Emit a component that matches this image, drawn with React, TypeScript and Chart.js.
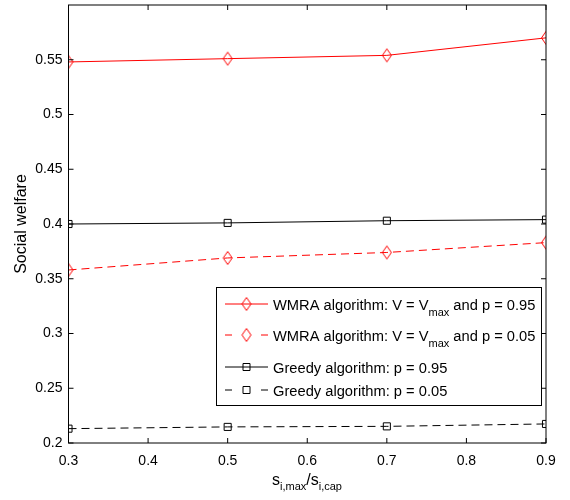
import React, { useEffect, useRef } from "react";
import { Chart, registerables } from "chart.js";

Chart.register(...registerables);

const xValues = [0.3, 0.5, 0.7, 0.9];
const wmra95 = [0.548, 0.551, 0.554, 0.570];
const wmra05 = [0.358, 0.369, 0.374, 0.383];
const greedy95 = [0.400, 0.401, 0.403, 0.404];
const greedy05 = [0.2131, 0.2147, 0.2152, 0.2174];
const xTicks = [0.3, 0.4, 0.5, 0.6, 0.7, 0.8, 0.9];
const yTicks = [0.2, 0.25, 0.3, 0.35, 0.4, 0.45, 0.5, 0.55];

const FONT = "'Liberation Sans', Arial, Helvetica, sans-serif";

function makeDiamond(): HTMLCanvasElement {
  const c = document.createElement("canvas");
  c.width = 12;
  c.height = 16;
  const ctx = c.getContext("2d")!;
  ctx.strokeStyle = "#ff0000";
  ctx.lineWidth = 1;
  ctx.beginPath();
  ctx.moveTo(6, 1.5);
  ctx.lineTo(10.5, 8);
  ctx.lineTo(6, 14.5);
  ctx.lineTo(1.5, 8);
  ctx.closePath();
  ctx.stroke();
  return c;
}

function toPts(ys: number[]) {
  return xValues.map((x, i) => ({ x, y: ys[i] }));
}

export default function App() {
  const ref = useRef<HTMLCanvasElement | null>(null);
  useEffect(() => {
    const canvas = ref.current!;
    const diamond = makeDiamond();

    const frame = {
      id: "frame",
      afterDraw(chart: any) {
        const ctx = chart.ctx as CanvasRenderingContext2D;
        const a = chart.chartArea;
        const xs = chart.scales.x;
        const ys = chart.scales.y;
        ctx.save();
        ctx.strokeStyle = "#000";
        ctx.lineWidth = 1;
        ctx.setLineDash([]);
        ctx.strokeRect(a.left, a.top, a.right - a.left, a.bottom - a.top);
        const tl = 5;
        ctx.beginPath();
        xTicks.forEach((v) => {
          const px = xs.getPixelForValue(v);
          ctx.moveTo(px, a.bottom);
          ctx.lineTo(px, a.bottom - tl);
          ctx.moveTo(px, a.top);
          ctx.lineTo(px, a.top + tl);
        });
        yTicks.forEach((v) => {
          const py = ys.getPixelForValue(v);
          ctx.moveTo(a.left, py);
          ctx.lineTo(a.left + tl, py);
          ctx.moveTo(a.right, py);
          ctx.lineTo(a.right - tl, py);
        });
        ctx.stroke();

        // Legend
        const lx = 216, ly = 287, lw = 325, lh = 118;
        ctx.fillStyle = "#fff";
        ctx.fillRect(lx, ly, lw, lh);
        ctx.strokeStyle = "#000";
        ctx.strokeRect(lx + 0.5, ly + 0.5, lw, lh);
        const rows = [
          { y: 304, color: "#ff0000", dashed: false, marker: "d", pre: "WMRA algorithm: V = V", sub: "max", post: " and p = 0.95" },
          { y: 335, color: "#ff0000", dashed: true, marker: "d", pre: "WMRA algorithm: V = V", sub: "max", post: " and p = 0.05" },
          { y: 367, color: "#000", dashed: false, marker: "s", pre: "Greedy algorithm: p = 0.95", sub: "", post: "" },
          { y: 390, color: "#000", dashed: true, marker: "s", pre: "Greedy algorithm: p = 0.05", sub: "", post: "" },
        ];
        rows.forEach((r) => {
          ctx.strokeStyle = r.color;
          ctx.lineWidth = 1;
          ctx.beginPath();
          if (r.dashed) {
            ctx.moveTo(225, r.y); ctx.lineTo(232, r.y);
            ctx.moveTo(261, r.y); ctx.lineTo(268, r.y);
          } else {
            ctx.moveTo(225, r.y); ctx.lineTo(268, r.y);
          }
          ctx.stroke();
          if (r.marker === "d") {
            ctx.drawImage(diamond, 246.5 - 6, r.y - 8);
          } else {
            ctx.beginPath();
            ctx.rect(246.5 - 3.5, r.y - 3.5, 7, 7);
            ctx.stroke();
          }
          ctx.fillStyle = "#000";
          ctx.textBaseline = "alphabetic";
          ctx.textAlign = "left";
          ctx.font = `14.7px ${FONT}`;
          let tx = 273;
          const base = r.y + 5.5;
          ctx.fillText(r.pre, tx, base);
          tx += ctx.measureText(r.pre).width;
          if (r.sub) {
            ctx.font = `11px ${FONT}`;
            ctx.fillText(r.sub, tx, base + 6);
            tx += ctx.measureText(r.sub).width;
            ctx.font = `14.7px ${FONT}`;
            ctx.fillText(r.post, tx, base);
          }
        });

        // Axis titles
        ctx.fillStyle = "#000";
        ctx.save();
        ctx.translate(22, 224);
        ctx.rotate(-Math.PI / 2);
        ctx.textAlign = "center";
        ctx.textBaseline = "middle";
        ctx.font = `16px ${FONT}`;
        ctx.fillText("Social welfare", 0, 0);
        ctx.restore();

        ctx.textAlign = "left";
        ctx.textBaseline = "alphabetic";
        const parts = [
          { t: "s", f: 16, dy: 0 },
          { t: "i,max", f: 11, dy: 5 },
          { t: "/", f: 16, dy: 0 },
          { t: "s", f: 16, dy: 0 },
          { t: "i,cap", f: 11, dy: 5 },
        ];
        let px = 272;
        const bl = 485;
        parts.forEach((p) => {
          ctx.font = `${p.f}px ${FONT}`;
          ctx.fillText(p.t, px, bl + p.dy);
          px += ctx.measureText(p.t).width;
        });
        ctx.restore();
      },
    };

    const zeroPad = (s: any) => {
      s.paddingTop = 0;
      s.paddingBottom = 0;
      s.paddingLeft = 0;
      s.paddingRight = 0;
    };

    const chart = new Chart(canvas, {
      type: "line",
      data: {
        datasets: [
          {
            label: "WMRA algorithm: V = Vmax and p = 0.95",
            data: toPts(wmra95),
            borderColor: "#ff0000",
            borderWidth: 1,
            pointStyle: diamond,
            pointRadius: 6,
            backgroundColor: "transparent",
            pointBorderColor: "#ff0000",
          },
          {
            label: "WMRA algorithm: V = Vmax and p = 0.05",
            data: toPts(wmra05),
            borderColor: "#ff0000",
            borderWidth: 1,
            borderDash: [8, 5],
            pointStyle: diamond,
            pointRadius: 6,
            backgroundColor: "transparent",
            pointBorderColor: "#ff0000",
          },
          {
            label: "Greedy algorithm: p = 0.95",
            data: toPts(greedy95),
            borderColor: "#000",
            borderWidth: 1,
            pointStyle: "rect",
            pointRadius: 5,
            pointBorderWidth: 1,
            backgroundColor: "transparent",
            pointBackgroundColor: "transparent",
            pointBorderColor: "#000",
          },
          {
            label: "Greedy algorithm: p = 0.05",
            data: toPts(greedy05),
            borderColor: "#000",
            borderWidth: 1,
            borderDash: [8, 5],
            pointStyle: "rect",
            pointRadius: 5,
            pointBorderWidth: 1,
            backgroundColor: "transparent",
            pointBackgroundColor: "transparent",
            pointBorderColor: "#000",
          },
        ],
      },
      options: {
        responsive: false,
        animation: false,
        devicePixelRatio: 1,
        layout: { autoPadding: false, padding: { top: 5, right: 24, left: 0, bottom: 0 } },
        plugins: { legend: { display: false }, tooltip: { enabled: false } },
        elements: { line: { tension: 0 } },
        scales: {
          x: {
            type: "linear",
            min: 0.3,
            max: 0.9,
            grid: { display: false },
            border: { display: false },
            afterBuildTicks: (s: any) => { s.ticks = xTicks.map((v) => ({ value: v })); },
            afterFit: (s: any) => { s.height = 57; zeroPad(s); },
            ticks: {
              color: "#000",
              font: { family: FONT, size: 14 },
              padding: 2,
              maxRotation: 0,
              callback: (v: any) => String(Number(v)),
            },
          },
          y: {
            type: "linear",
            min: 0.2,
            max: 0.6,
            grid: { display: false },
            border: { display: false },
            afterBuildTicks: (s: any) => { s.ticks = yTicks.map((v) => ({ value: v })); },
            afterFit: (s: any) => { s.width = 68.5; zeroPad(s); },
            ticks: {
              color: "#000",
              font: { family: FONT, size: 14 },
              padding: -2,
              callback: (v: any) => String(Number(v)),
            },
          },
        },
      },
      plugins: [frame],
    } as any);
    return () => chart.destroy();
  }, []);
  return (
    <canvas
      ref={ref}
      width={570}
      height={500}
      style={{ position: "absolute", left: 0, top: 0, display: "block" }}
    />
  );
}
